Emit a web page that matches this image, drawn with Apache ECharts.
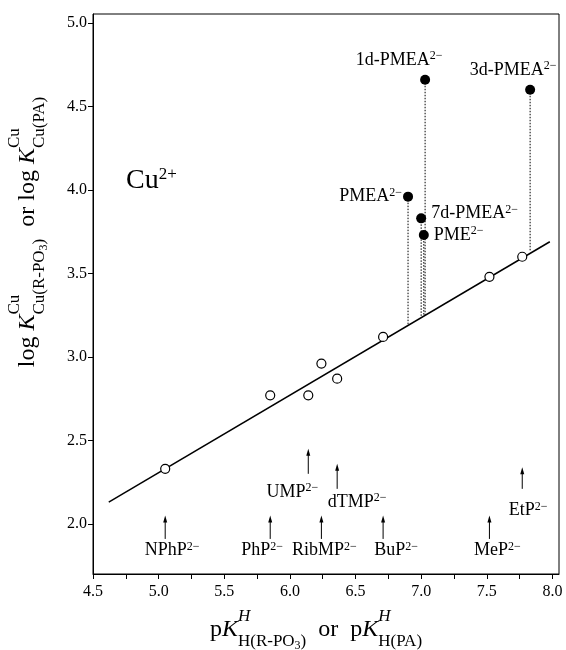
<!DOCTYPE html>
<html>
<head>
<meta charset="utf-8">
<script src="https://cdn.jsdelivr.net/npm/echarts@6/dist/echarts.min.js"></script>
<style>
  html, body { margin: 0; padding: 0; background: #fff; }
  #chart { width: 566px; height: 650px; }
</style>
</head>
<body>
<div id="chart"></div>
<script>
// ---- data ----
const refNames = ['NPhP', 'PhP', 'UMP', 'RibMP', 'dTMP', 'BuP', 'MeP', 'EtP']
const refPKa = [5.05, 5.85, 6.14, 6.24, 6.36, 6.71, 7.52, 7.77]
const refLogK = [2.33, 2.77, 2.77, 2.96, 2.87, 3.12, 3.48, 3.60]

const pmeaNames = ['PMEA', '1d-PMEA', '3d-PMEA', '7d-PMEA', 'PME']
const pmeaPKa = [6.90, 7.03, 7.83, 7.00, 7.02]
const pmeaLogK = [3.96, 4.66, 4.60, 3.83, 3.73]
// where each dotted drop line meets the reference line
const dropLogK = [3.19, 3.25, 3.63, 3.24, 3.25]

// ends of the straight reference line
const fitPKa = [4.62, 7.98]
const fitLogK = [2.13, 3.69]

const xTicks = [4.5, 4.75, 5.0, 5.25, 5.5, 5.75, 6.0, 6.25, 6.5, 6.75, 7.0, 7.25, 7.5, 7.75, 8.0]
const xTickLabels = [4.5, 5.0, 5.5, 6.0, 6.5, 7.0, 7.5, 8.0]
const yTickLabels = [2.0, 2.5, 3.0, 3.5, 4.0, 4.5, 5.0]

// ---- annotation layout (arrows under the line) ----
// tip / tail / label centre in log K units, dx in px
const arrowLayout = {
  NPhP: { tip: 2.05, tail: 1.91, ly: 1.84, dx: 7 },
  PhP: { tip: 2.05, tail: 1.91, ly: 1.84, dx: -8 },
  UMP: { tip: 2.45, tail: 2.30, ly: 2.19, dx: -16 },
  RibMP: { tip: 2.05, tail: 1.91, ly: 1.84, dx: 3 },
  dTMP: { tip: 2.36, tail: 2.21, ly: 2.13, dx: 20 },
  BuP: { tip: 2.05, tail: 1.91, ly: 1.84, dx: 13 },
  MeP: { tip: 2.05, tail: 1.91, ly: 1.84, dx: 8 },
  EtP: { tip: 2.34, tail: 2.21, ly: 2.08, dx: 6 },
}
const pmeaLabel = {
  'PMEA': { position: 'left', distance: 1 },
  '1d-PMEA': { position: 'top', offset: [-26, 0] },
  '3d-PMEA': { position: 'top', offset: [-17, 0] },
  '7d-PMEA': { position: 'right', distance: 5, offset: [0, -5] },
  'PME': { position: 'right', distance: 5 },
}

const FONT = '"Liberation Serif", "Times New Roman", serif'
const supRich = {
  a: { fontFamily: FONT, fontSize: 18, color: '#000', lineHeight: 20 },
  b: { fontFamily: FONT, fontSize: 12, color: '#000', lineHeight: 12, verticalAlign: 'top' },
}
const charge = (n) => '{a|' + n + '}{b|2\u2212}'

// ---- little layout helper for the stacked sub/superscripts in the axis titles ----
const measCtx = document.createElement('canvas').getContext('2d')
function fontStr(p) {
  return (p.i ? 'italic ' : '') + p.s + 'px ' + FONT
}
function layoutMath(seq, x, out) {
  const x0 = x
  seq.forEach((p) => {
    if (p.stack) {
      let w = 0
      p.stack.forEach((s) => { w = Math.max(w, layoutMath(s, x, out)) })
      x += w
    } else {
      out.push({
        type: 'text', x: x, y: p.dy || 0,
        style: { text: p.t, font: fontStr(p), fill: '#000', align: 'left', verticalAlign: 'middle' },
      })
      measCtx.font = fontStr(p)
      x += measCtx.measureText(p.t).width
    }
  })
  return x - x0
}
function mathGroup(seq, cx, cy, rotation) {
  const kids = []
  const w = layoutMath(seq, 0, kids)
  kids.forEach((k) => { k.x -= w / 2 })
  return { type: 'group', x: cx, y: cy, rotation: rotation || 0, children: kids }
}

const M = 24, S = 17, SS = 12
const xTitle = [
  { t: 'p', s: M }, { t: 'K', s: M, i: true },
  { stack: [[{ t: 'H', s: S, i: true, dy: -13 }],
    [{ t: 'H(R-PO', s: S, dy: 12 }, { t: '3', s: SS, dy: 16 }, { t: ')', s: S, dy: 12 }]] },
  { t: '  or  p', s: M }, { t: 'K', s: M, i: true },
  { stack: [[{ t: 'H', s: S, i: true, dy: -13 }], [{ t: 'H(PA)', s: S, dy: 12 }]] },
]
const yTitle = [
  { t: 'log ', s: M }, { t: 'K', s: M, i: true },
  { stack: [[{ t: 'Cu', s: S, dy: -13 }],
    [{ t: 'Cu(R-PO', s: S, dy: 12 }, { t: '3', s: SS, dy: 16 }, { t: ')', s: S, dy: 12 }]] },
  { t: '  or log ', s: M }, { t: 'K', s: M, i: true },
  { stack: [[{ t: 'Cu', s: S, dy: -13 }], [{ t: 'Cu(PA)', s: S, dy: 12 }]] },
]

const chart = echarts.init(document.getElementById('chart'))

const option = {
  animation: false,
  backgroundColor: '#fff',
  grid: { left: 93, right: 7, top: 14, bottom: 76, show: true, borderColor: '#000', borderWidth: 1 },
  xAxis: {
    type: 'value', min: 4.5, max: 8.05,
    axisLine: { lineStyle: { color: '#000', width: 1 } },
    axisTick: { length: 5, customValues: xTicks, lineStyle: { color: '#000' } },
    axisLabel: {
      customValues: xTickLabels, formatter: (v) => v.toFixed(1),
      fontFamily: FONT, fontSize: 16, color: '#000', margin: 10,
    },
    splitLine: { show: false },
  },
  yAxis: {
    type: 'value', min: 1.70, max: 5.054,
    axisLine: { lineStyle: { color: '#000', width: 1 } },
    axisTick: { length: 5, customValues: yTickLabels, lineStyle: { color: '#000' } },
    axisLabel: {
      customValues: yTickLabels, formatter: (v) => v.toFixed(1),
      fontFamily: FONT, fontSize: 16, color: '#000', margin: 6,
    },
    splitLine: { show: false },
  },
  graphic: [
    mathGroup(xTitle, 316, 630),
    mathGroup(yTitle, 28, 232, Math.PI / 2),
    {
      type: 'text', left: 126, top: 166,
      style: {
        text: '{a|Cu}{b|2+}',
        rich: {
          a: { fontFamily: FONT, fontSize: 28, color: '#000', lineHeight: 30 },
          b: { fontFamily: FONT, fontSize: 17, color: '#000', lineHeight: 17, verticalAlign: 'top' },
        },
      },
    },
  ],
  series: [
    {
      // reference line
      type: 'line',
      data: fitPKa.map((x, i) => [x, fitLogK[i]]),
      symbol: 'none',
      lineStyle: { color: '#000', width: 1.5 },
      z: 2,
    },
    {
      // dotted drops from the filled points to the line
      type: 'custom',
      data: pmeaPKa.map((x, i) => [x, pmeaLogK[i], dropLogK[i]]),
      renderItem: (params, api) => {
        const top = api.coord([api.value(0), api.value(1)])
        const bot = api.coord([api.value(0), api.value(2)])
        return {
          type: 'line',
          shape: { x1: top[0], y1: top[1], x2: bot[0], y2: bot[1] },
          style: { stroke: '#000', lineWidth: 1, lineDash: [1.5, 1.5] },
        }
      },
      z: 1,
    },
    {
      // arrows + names under the line
      type: 'custom',
      data: refPKa.map((x, i) => [x, i]),
      renderItem: (params, api) => {
        const name = refNames[api.value(1)]
        const a = arrowLayout[name]
        const x = api.value(0)
        const tip = api.coord([x, a.tip])
        const tail = api.coord([x, a.tail])
        const lab = api.coord([x, a.ly])
        return {
          type: 'group',
          children: [
            {
              type: 'line',
              shape: { x1: tail[0], y1: tail[1], x2: tip[0], y2: tip[1] + 5 },
              style: { stroke: '#000', lineWidth: 1 },
            },
            {
              type: 'polygon',
              shape: { points: [[tip[0], tip[1]], [tip[0] - 2, tip[1] + 7], [tip[0] + 2, tip[1] + 7]] },
              style: { fill: '#000' },
            },
            {
              type: 'text',
              x: lab[0] + a.dx, y: lab[1],
              style: { text: charge(name), rich: supRich, align: 'center', verticalAlign: 'middle' },
            },
          ],
        }
      },
      z: 3,
    },
    {
      type: 'scatter',
      data: refPKa.map((x, i) => [x, refLogK[i]]),
      symbol: 'circle', symbolSize: 9,
      itemStyle: { color: '#fff', borderColor: '#000', borderWidth: 1.2, opacity: 1 },
      z: 4,
    },
    {
      type: 'scatter',
      data: pmeaPKa.map((x, i) => ({
        value: [x, pmeaLogK[i]],
        name: pmeaNames[i],
        label: Object.assign({ show: true }, pmeaLabel[pmeaNames[i]]),
      })),
      symbol: 'circle', symbolSize: 10,
      itemStyle: { color: '#000', opacity: 1 },
      label: { formatter: (p) => charge(p.name), rich: supRich, color: '#000' },
      z: 5,
    },
  ],
}

chart.setOption(option)
</script>
</body>
</html>
